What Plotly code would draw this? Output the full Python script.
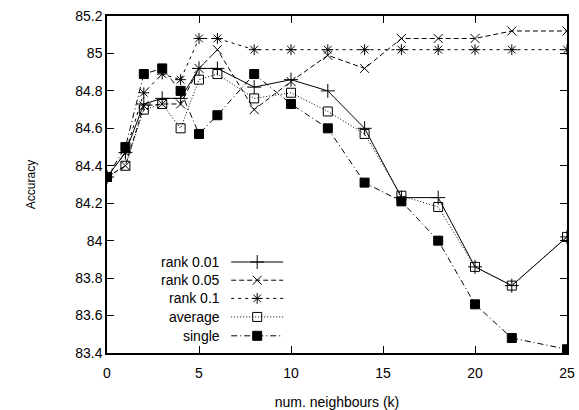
import plotly.graph_objects as go

k = [0, 1, 2, 3, 4, 5, 6, 8, 10, 12, 14, 16, 18, 20, 22, 25]
rank_001 = [84.34, 84.47, 84.73, 84.76, 84.76, 84.92, 84.92, 84.82, 84.86, 84.80, 84.60, 84.23, 84.23, 83.86, 83.76, 84.02]
rank_005 = [84.34, 84.40, 84.72, 84.73, 84.73, 84.92, 85.02, 84.70, 84.85, 84.99, 84.92, 85.08, 85.08, 85.08, 85.12, 85.12]
rank_01 = [84.34, 84.47, 84.79, 84.89, 84.86, 85.08, 85.08, 85.02, 85.02, 85.02, 85.02, 85.02, 85.02, 85.02, 85.02, 85.02]
average = [84.34, 84.40, 84.70, 84.73, 84.60, 84.86, 84.89, 84.76, 84.79, 84.69, 84.57, 84.24, 84.18, 83.86, 83.76, 84.02]
single = [84.34, 84.50, 84.89, 84.92, 84.80, 84.57, 84.67, 84.89, 84.73, 84.60, 84.31, 84.21, 84.00, 83.66, 83.48, 83.42]

names = ["rank 0.01", "rank 0.05", "rank 0.1", "average", "single"]
series = [rank_001, rank_005, rank_01, average, single]
symbols = ["cross-thin", "x-thin", "asterisk", "square-open", "square"]
sizes = [10, 9, 9, 9, 9]
dashes = ["solid", "5px,3px", "3px,4px", "1px,2px", "6px,3px,1px,3px"]

fig = go.Figure()
for nm, ys, sym, sz, da in zip(names, series, symbols, sizes, dashes):
    fig.add_trace(go.Scatter(
        x=k, y=ys, mode="lines+markers", name=nm, showlegend=False,
        line=dict(color="black", width=1, dash=da),
        marker=dict(symbol=sym, size=sz, color="black",
                    line=dict(color="black", width=1)),
    ))

# custom gnuplot-style legend (text right-aligned, sample to the right)
leg_y = [0.270, 0.216, 0.162, 0.107, 0.051]
for i, (nm, sym, sz, da) in enumerate(zip(names, symbols, sizes, dashes)):
    yy = leg_y[i]
    fig.add_trace(go.Scatter(
        x=[0.27, 0.383], y=[yy, yy], xaxis="x2", yaxis="y2", mode="lines",
        showlegend=False, hoverinfo="skip",
        line=dict(color="black", width=1, dash=da),
    ))
    fig.add_trace(go.Scatter(
        x=[0.3265], y=[yy], xaxis="x2", yaxis="y2", mode="markers",
        showlegend=False, hoverinfo="skip",
        marker=dict(symbol=sym, size=sz, color="black",
                    line=dict(color="black", width=1)),
    ))
    fig.add_annotation(xref="x2", yref="y2", x=0.25, y=yy, text=nm,
                       showarrow=False, xanchor="right", yanchor="middle",
                       font=dict(size=14, color="black"))

axis_common = dict(showgrid=False, zeroline=False, showline=True,
                   linecolor="black", linewidth=1.5, mirror="ticks",
                   ticks="inside", ticklen=7, tickcolor="black", tickwidth=1,
                   ticklabeloverflow="allow", automargin=False,
                   tickfont=dict(size=14, color="black"))

fig.update_layout(
    width=579, height=410,
    margin=dict(l=107, r=12, t=16, b=57),
    paper_bgcolor="white", plot_bgcolor="white",
    font=dict(family="Liberation Sans, Arial, sans-serif", color="black"),
    xaxis=dict(range=[0, 25], dtick=5, tick0=0, ticklabelstandoff=6,
               title=dict(text="num. neighbours (k)", font=dict(size=14), standoff=18),
               **axis_common),
    yaxis=dict(range=[83.4, 85.2], dtick=0.2, tick0=83.4,
               title=dict(text="Accuracy", font=dict(size=12), standoff=37),
               **axis_common),
    xaxis2=dict(range=[0, 1], overlaying="x", visible=False, fixedrange=True),
    yaxis2=dict(range=[0, 1], overlaying="y", visible=False, fixedrange=True),
    showlegend=False,
)

fig.write_html("out.html", config={"displayModeBar": False},
               post_script="document.body.style.margin='0';")
